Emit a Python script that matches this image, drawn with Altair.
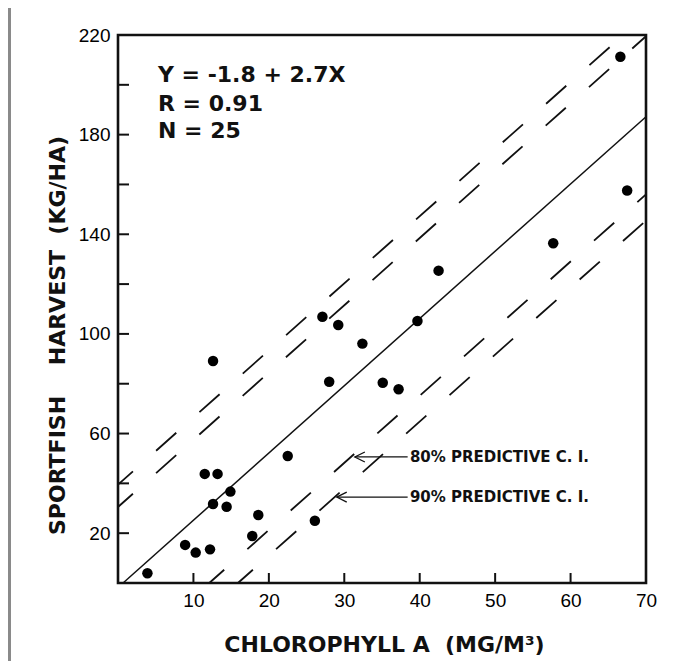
import altair as alt
import pandas as pd

# --- data ---
chl = [3.9, 12.6, 11.5, 13.2, 14.9, 12.6, 14.4, 18.6, 17.8, 8.9, 10.3, 12.2, 22.5, 26.1,
       42.5, 27.1, 29.2, 39.7, 32.4, 28.0, 35.1, 37.2, 66.6, 67.5, 57.7]
harvest = [3.9, 89.1, 43.8, 43.8, 36.7, 31.7, 30.6, 27.3, 18.9, 15.3, 12.2, 13.5, 51.0, 25.0,
           125.4, 106.9, 103.6, 105.2, 96.1, 80.8, 80.4, 77.8, 211.3, 157.6, 136.4]

fit_x = [0.67, 70]
fit_y = [0, 187.2]

band_names = ["u90", "u90", "u80", "u80", "l80", "l80", "l90", "l90"]
band_x = [0, 67.0, 0, 70, 12.1, 70, 15.9, 70]
band_y = [39.5, 220, 30.5, 219.5, 0, 156, 0, 145.5]

eq_text = ["Y = -1.8 + 2.7X", "R = 0.91", "N = 25"]
eq_x = [5.3, 5.3, 5.3]
eq_y = [203.9, 192.5, 181.3]

ci_text = ["80% PREDICTIVE C. I.", "90% PREDICTIVE C. I."]
ci_x = [38.7, 38.7]
ci_y = [50.6, 34.5]
arrow_tip_x = [31.4, 29.0]
arrow_end_x = [38.4, 38.4]

x_ticks = [10, 20, 30, 40, 50, 60]
y_ticks = [20, 40, 60, 80, 100, 120, 140, 160, 180, 200]
x_labels = [10, 20, 30, 40, 50, 60, 70]
y_labels = [20, 60, 100, 140, 180, 220]

NB = "\u00a0"
x_title = "CHLOROPHYLL A" + NB * 2 + "(MG/M³)"
y_title = "SPORTFISH" + NB * 4 + "HARVEST" + NB * 2 + "(KG/HA)"

W, H = 528, 548
PAD = {"left": 110, "top": 27, "right": 34, "bottom": 78}
BOLD = "DejaVu Sans"

xs = alt.Scale(domain=[0, 70], nice=False, zero=False)
ys = alt.Scale(domain=[0, 220], nice=False, zero=False)

x_axis = alt.Axis(values=x_labels, ticks=False, domain=False, grid=False,
                  labelFont="Liberation Sans", labelFontSize=19, labelColor="#000",
                  labelPadding=8, labelFlush=False,
                  title=x_title, titleFont=BOLD, titleFontWeight="bold",
                  titleFontSize=22, titleColor="#111", titleX=W / 2 + 2, titleY=68,
                  titleBaseline="alphabetic", titleAlign="center")
y_axis = alt.Axis(values=y_labels, ticks=False, domain=False, grid=False,
                  labelFont="Liberation Sans", labelFontSize=19, labelColor="#000",
                  labelPadding=8, labelFlush=False,
                  title=y_title, titleFont=BOLD, titleFontWeight="bold",
                  titleFontSize=22, titleColor="#111", titleX=-61, titleY=300,
                  titleAlign="center", titleBaseline="middle", titleAngle=270)


def X(f="x"):
    return alt.X(f"{f}:Q", scale=xs, axis=x_axis)


def Y(f="y"):
    return alt.Y(f"{f}:Q", scale=ys, axis=y_axis)


pts = pd.DataFrame({"x": chl, "y": harvest})
fit = pd.DataFrame({"x": fit_x, "y": fit_y})
bands = pd.DataFrame({"name": band_names, "x": band_x, "y": band_y})
eq = pd.DataFrame({"t": eq_text, "x": eq_x, "y": eq_y})
ci = pd.DataFrame({"t": ci_text, "x": ci_x, "y": ci_y, "tip": arrow_tip_x, "end": arrow_end_x})
xt = pd.DataFrame({"x": x_ticks})
yt = pd.DataFrame({"y": y_ticks})

points = alt.Chart(pts).mark_circle(size=110, color="#000", opacity=1).encode(x=X(), y=Y())

fit_line = alt.Chart(fit).mark_line(color="#111", strokeWidth=1.5).encode(x=X(), y=Y())

band_lines = alt.Chart(bands).mark_line(
    color="#111", strokeWidth=1.8, strokeDash=[27, 31], strokeDashOffset=7
).encode(x=X(), y=Y(), detail="name:N")

eq_marks = alt.Chart(eq).mark_text(
    align="left", baseline="middle", font=BOLD, fontWeight="bold", fontSize=22, color="#111"
).encode(x=X(), y=Y(), text="t:N")

ci_text_marks = alt.Chart(ci).mark_text(
    align="left", baseline="middle", font=BOLD, fontWeight="bold", fontSize=15, color="#111"
).encode(x=X(), y=Y(), text="t:N")

ci_rules = alt.Chart(ci).mark_rule(color="#111", strokeWidth=1.3).encode(
    x=X("tip"), x2=alt.X2("end"), y=Y()
)

ci_heads = alt.Chart(ci).mark_point(
    shape="M1,-0.5L0,0L1,0.5", filled=False, size=400, color="#111", strokeWidth=1.3, opacity=1
).encode(x=X("tip"), y=Y())

x_tick_marks = alt.Chart(xt).mark_rule(color="#111", strokeWidth=2).encode(
    x=X(), y=alt.value(H), y2=alt.value(H - 10)
)
y_tick_marks = alt.Chart(yt).mark_rule(color="#111", strokeWidth=2).encode(
    y=Y(), x=alt.value(0), x2=alt.value(11)
)

# grey frame edge of the scanned page (decoration, left side)
frame_edge = alt.Chart(pd.DataFrame({"k": [0]})).mark_rule(
    color="#8a8a8a", strokeWidth=3
).encode(x=alt.value(-PAD["left"] + 1.5), y=alt.value(-PAD["top"]),
         y2=alt.value(H + PAD["bottom"]))

chart = alt.layer(
    frame_edge, band_lines, fit_line, x_tick_marks, y_tick_marks, ci_rules, ci_heads,
    ci_text_marks, eq_marks, points
).properties(
    width=W, height=H,
    autosize=alt.AutoSizeParams(type="none"),
    padding=PAD,
    background="white",
).configure_view(stroke="#111", strokeWidth=2.6)

chart.save("out.html", embed_options={"renderer": "svg", "actions": False})
